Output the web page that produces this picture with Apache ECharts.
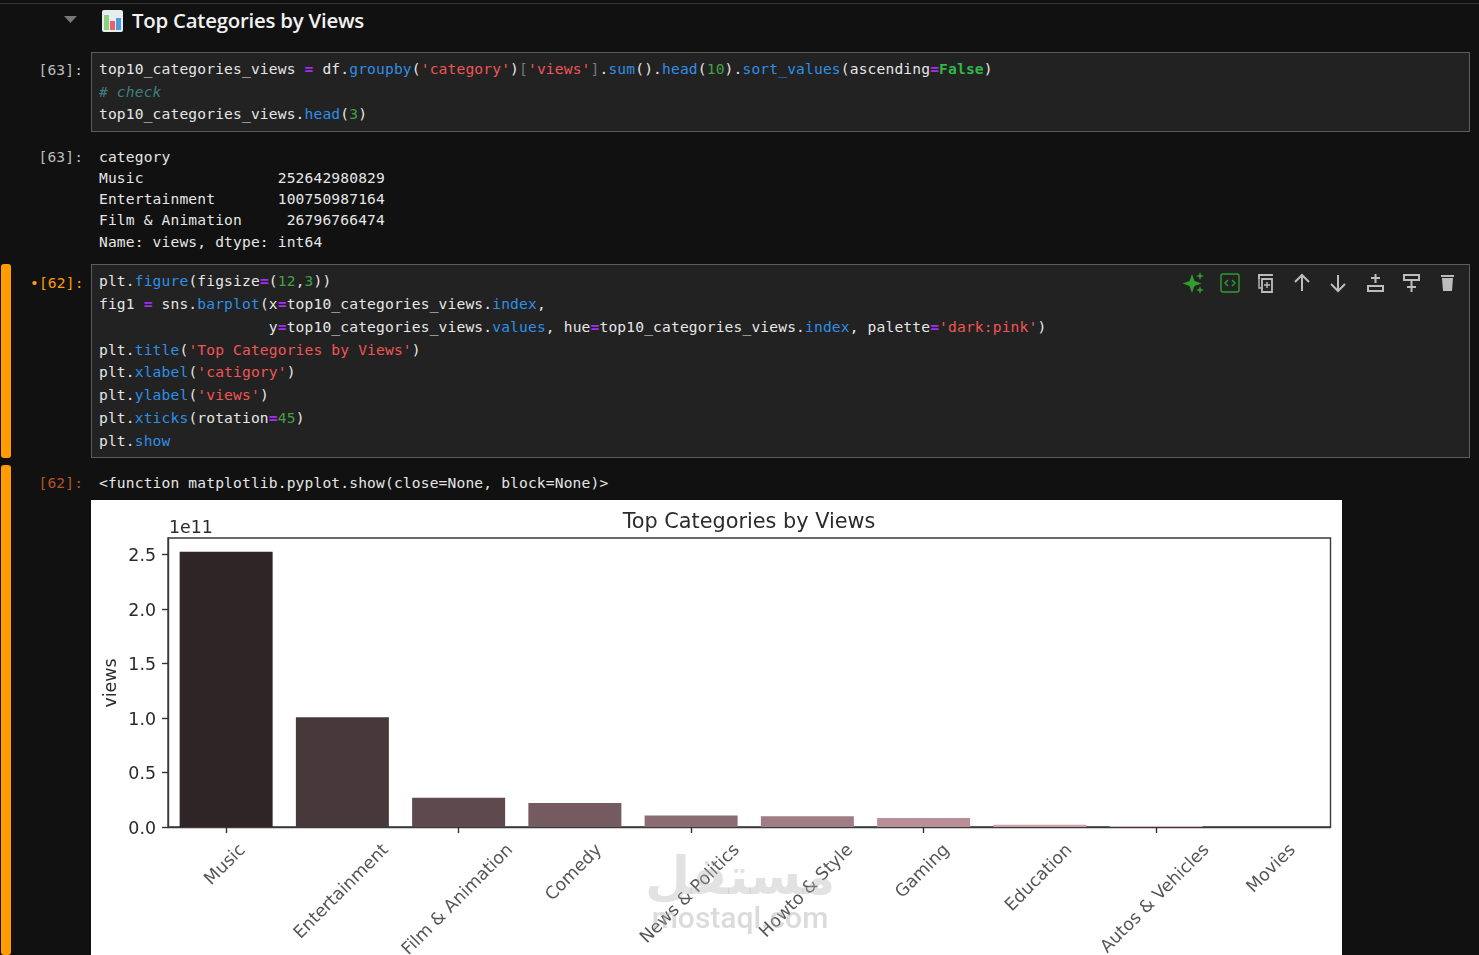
<!DOCTYPE html>
<html><head><meta charset="utf-8">
<script src="https://cdn.jsdelivr.net/npm/echarts@6/dist/echarts.min.js"></script>
<style>
html,body{margin:0;padding:0;width:1479px;height:955px;overflow:hidden;background:#111;}
.abs{position:absolute;}
.ln{position:absolute;left:99px;margin:0;font:14.6px/20px "DejaVu Sans Mono",monospace;letter-spacing:.15px;color:#e6e6e6;white-space:pre;transform:translateY(-10px);}
.p{left:38.5px;color:#bdbdbd;}
.f{color:#2f8fe6}.s{color:#f25555}.n{color:#43a047}.o{color:#a32cf0;font-weight:bold}.c{color:#3f7f7f;font-style:italic}.k{color:#2fb84a;font-weight:bold}.b{color:#777}
.cell{position:absolute;left:91px;width:1377px;background:#222;border:1px solid #5c5c5c;box-sizing:content-box;}
.bar{position:absolute;left:1px;width:10px;background:#ff9c00;border-radius:3px;}
#chart{position:absolute;left:91px;top:500px;width:1251px;height:455px;background:#fff;}
</style></head><body>
<div class="abs" style="left:0;top:3px;width:1479px;height:1px;background:#333"></div>
<svg class="abs" style="left:62px;top:14px" width="18" height="12"><path d="M2 2H15L8.5 9Z" fill="#777"/></svg>
<svg class="abs" style="left:101px;top:9px" width="23" height="24">
<rect x="1" y="1" width="21" height="22" rx="2" fill="#e8eef0"/>
<rect x="3" y="6" width="5" height="15" fill="#8fd07a"/><rect x="9" y="12" width="5" height="9" fill="#e8606a"/><rect x="15" y="9" width="5" height="12" fill="#4a9de0"/>
</svg>
<div class="abs" style="left:132px;top:6px;font:600 20.4px/28px 'Open Sans',sans-serif;letter-spacing:-.23px;color:#f2f2f2;white-space:pre">Top Categories by Views</div>
<div class="cell" style="top:52px;height:78px"></div>
<div class="cell" style="top:264px;height:192px"></div>
<div class="bar" style="top:264px;height:194px"></div>
<div class="bar" style="top:465px;height:490px"></div>
<div id="lines"></div>
<svg class="abs" style="left:1180px;top:270px" width="280" height="26" fill="none" stroke="#bdbdbd" stroke-width="2">
<path d="M12 4l2.5 7 7 2.5-7 2.5-2.5 7-2.5-7-7-2.500 7-2.500z" fill="#2e9e2e" stroke="none"/><path d="M20 2l1 3 3 1-3 1-1 3-1-3-3-1 3-1zM20 16l1 3 3 1-3 1-1 3-1-3-3-1 3-1z" fill="#2e9e2e" stroke="none"/>
<rect x="41" y="4" width="18" height="18" rx="2" stroke="#2e9e2e" stroke-width="1.4"/><path d="M48 10l-3 3 3 3M52 10l3 3-3 3" stroke="#2e9e2e" stroke-width="1.4"/>
<path d="M79 9V5h9l4 0v1M82 22h10V9H82z" stroke-width="1.8"/><path d="M79 5v13h3M84 15h6M87 12v6" stroke-width="1.4"/>
<path d="M122 21V5M115 12l7-7 7 7"/>
<path d="M158 5v16M151 14l7 7 7-7"/>
<rect x="188" y="16" width="15" height="5" /><path d="M195.500 4v9M191 8h9"/>
<rect x="224" y="5" width="15" height="5"/><path d="M231.500 10v12M227 17h9"/>
<path d="M262 8h11l-1 13h-9z" fill="#bdbdbd" stroke="none"/><path d="M261 6h13" />
</svg>
<div id="chart"></div>
<script>
// Chart data
const categories = ['Music','Entertainment','Film & Animation','Comedy','News & Politics','Howto & Style','Gaming','Education','Autos & Vehicles','Movies'];
const viewsValues = [252642980829,100750987164,26796766474,22000000000,10500000000,9800000000,8200000000,2000000000,1000000000,100000000];
const barColors = ['#2f2527','#47383b','#5e4a4e','#745b60','#8a6c72','#a07d84','#b88f97','#cda0a8','#e0b0b9','#f3c0ca'];
const yTickValues = [0,50000000000,100000000000,150000000000,200000000000,250000000000];
const yAxisMax = 265275000000;
const chartTitle = 'Top Categories by Views';
const yAxisName = 'views';
const offsetText = '1e11';
const watermarkLogo = 'مستقل';
const watermarkSite = 'mostaql.com';

// Notebook text
const promptLines = [[70,'[63]:','p'],[157,'[63]:','p'],[283,'<span style="color:#ff9c00">•[62]:</span>','p d'],[483,'<span style="color:#b5532a">[62]:</span>','p']];
const codeLines = [
[69,`top10_categories_views <i class=o>=</i> df.<i class=f>groupby</i>(<i class=s>'category'</i>)<i class=b>[</i><i class=s>'views'</i><i class=b>]</i>.<i class=f>sum</i>().<i class=f>head</i>(<i class=n>10</i>).<i class=f>sort_values</i>(ascending<i class=o>=</i><i class=k>False</i>)`],
[92,`<i class=c># check</i>`],
[114,`top10_categories_views.<i class=f>head</i>(<i class=n>3</i>)`],
[157,`category`],
[178,`Music               252642980829`],
[199,`Entertainment       100750987164`],
[220,`Film &amp; Animation     26796766474`],
[242,`Name: views, dtype: int64`],
[281,`plt.<i class=f>figure</i>(figsize<i class=o>=</i>(<i class=n>12</i>,<i class=n>3</i>))`],
[304,`fig1 <i class=o>=</i> sns.<i class=f>barplot</i>(x<i class=o>=</i>top10_categories_views.<i class=f>index</i>,`],
[327,`                   y<i class=o>=</i>top10_categories_views.<i class=f>values</i>, hue<i class=o>=</i>top10_categories_views.<i class=f>index</i>, palette<i class=o>=</i><i class=s>'dark:pink'</i>)`],
[350,`plt.<i class=f>title</i>(<i class=s>'Top Categories by Views'</i>)`],
[372,`plt.<i class=f>xlabel</i>(<i class=s>'catigory'</i>)`],
[395,`plt.<i class=f>ylabel</i>(<i class=s>'views'</i>)`],
[418,`plt.<i class=f>xticks</i>(rotation<i class=o>=</i><i class=n>45</i>)`],
[441,`plt.<i class=f>show</i>`],
[483,`&lt;function matplotlib.pyplot.show(close=None, block=None)&gt;`]
];
let h='';
for(const [y,t,c] of promptLines) h+=`<pre class="ln p" style="top:${y}px;${c.includes('d')?'left:30px':''}">${t}</pre>`;
for(const [y,t] of codeLines) h+=`<pre class="ln" style="top:${y}px">${t.replace(/<i class=(\w)>/g,'<span class="$1">').replace(/<\/i>/g,'</span>')}</pre>`;
document.getElementById('lines').innerHTML=h;

// Chart
const tickFont = '17.4px "DejaVu Sans"';
const ctx = document.createElement('canvas').getContext('2d');
ctx.font = tickFont;
// matplotlib centres the rotated bounding box under the tick; the label offset is in the rotated frame
const labelOffset = name => {
  const dy = 14.5 + (ctx.measureText(name).width + 17) * Math.SQRT1_2 / 2, dx = -0.8;
  return [(dx - dy) * Math.SQRT1_2, (dx + dy) * Math.SQRT1_2];
};
const ink = '#2b2b2b';
const chart = echarts.init(document.getElementById('chart'), null, {renderer:'canvas'});
chart.setOption({
  animation:false,
  backgroundColor:'#fff',
  textStyle:{fontFamily:'DejaVu Sans'},
  title:{text:chartTitle,left:658,top:12,padding:0,textAlign:'center',textStyle:{fontSize:20.8,fontWeight:'normal',color:ink,fontFamily:'DejaVu Sans'}},
  grid:{left:77,top:38,width:1162.5,height:289,show:true,borderColor:'#3a3a3a',borderWidth:1.4,backgroundColor:'#fff',containLabel:false},
  xAxis:{type:'category',data:categories,
    axisLine:{lineStyle:{color:'#3a3a3a',width:1.4}},
    axisTick:{show:true,alignWithLabel:true,length:6,lineStyle:{color:'#333',width:1.4}},
    axisLabel:{show:false},splitLine:{show:false}},
  yAxis:{type:'value',min:0,max:yAxisMax,
    axisLine:{show:true,lineStyle:{color:'#3a3a3a',width:1.4}},
    axisTick:{show:true,length:6,customValues:yTickValues,lineStyle:{color:'#333',width:1.4}},
    axisLabel:{margin:12,verticalAlign:'top',lineHeight:4,customValues:yTickValues,fontSize:17.4,color:ink,fontFamily:'DejaVu Sans',formatter:v=>(v/1e11).toFixed(1)},
    splitLine:{show:false}},
  graphic:[
    {type:'text',left:78,top:19.5,style:{text:offsetText,fontSize:17.4,fill:ink,fontFamily:'DejaVu Sans'}},
    {type:'text',x:20,y:183,rotation:Math.PI/2,style:{text:yAxisName,fontSize:17.4,fill:ink,fontFamily:'DejaVu Sans',align:'center',verticalAlign:'middle'}},
    {type:'text',x:649,y:380,z:100,style:{text:watermarkLogo,fontSize:52,fontWeight:'bold',fill:'rgba(175,175,175,.36)',fontFamily:'DejaVu Sans',align:'center',verticalAlign:'middle'}},
    {type:'text',x:649,y:420,z:100,style:{text:watermarkSite,fontSize:30,fontWeight:500,fill:'rgba(175,175,175,.45)',fontFamily:'Roboto',align:'center',verticalAlign:'middle'}}
  ],
  series:[
    {type:'bar',barWidth:'80%',colorBy:'data',color:barColors,data:viewsValues,silent:true},
    {type:'scatter',symbolSize:0,silent:true,clip:false,z:5,
     data:categories.map(c=>({value:[c,0],label:{offset:labelOffset(c)}})),
     label:{show:true,position:'inside',rotate:45,align:'center',verticalAlign:'middle',fontSize:17.4,color:ink,fontFamily:'DejaVu Sans',
       formatter:p=>p.value[0]}}
  ]
});
</script>
</body></html>
